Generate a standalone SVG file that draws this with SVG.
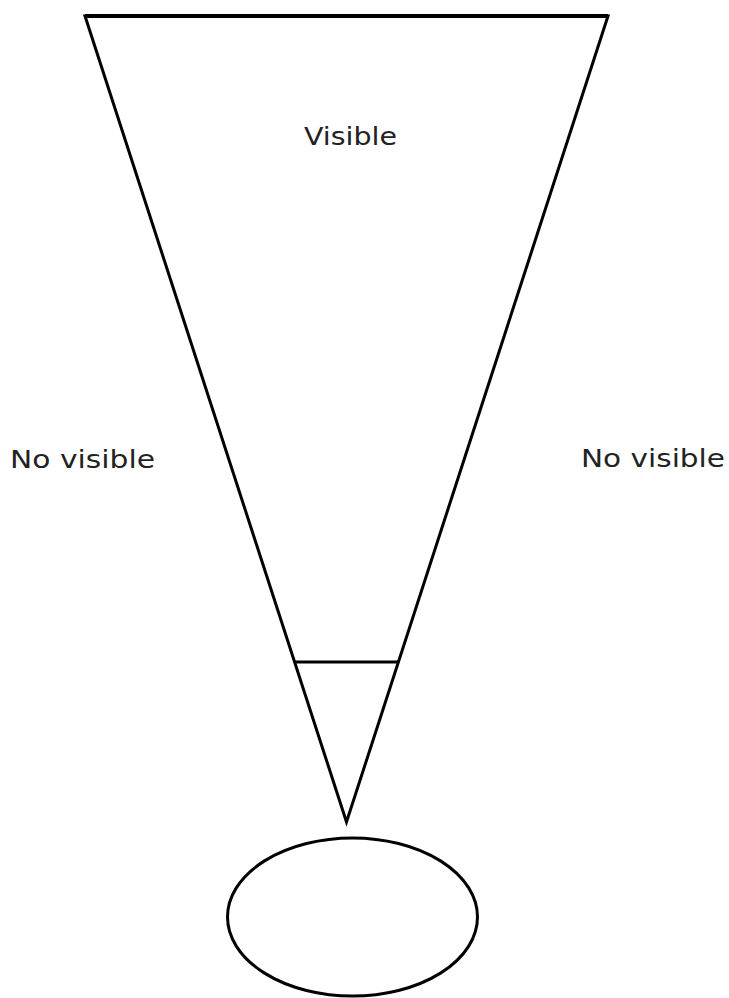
<svg xmlns="http://www.w3.org/2000/svg" width="729" height="998" viewBox="0 0 729 998">
<style>
.s{fill:none;stroke:#000;stroke-width:3;stroke-linejoin:miter}
.t{font-family:"DejaVu Sans","Liberation Sans",sans-serif;font-size:25px;fill:#222}
</style>
<rect width="729" height="998" fill="#fff"/>
<g id="cone">
<path class="s" d="M346.5,822 L85,16 L608,16 Z"/>
<line x1="85" y1="16" x2="608" y2="16" stroke="#000" stroke-width="4"/>
</g>
<g id="connectors">
<line class="s" x1="295" y1="662" x2="398" y2="662" stroke-width="2.5"/>
</g>
<g id="eye">
<ellipse class="s" cx="352.5" cy="917" rx="125" ry="79"/>
</g>
<g id="label-visible">
<text class="t" x="304" y="145" textLength="93" lengthAdjust="spacingAndGlyphs">Visible</text>
</g>
<g id="label-left">
<text class="t" x="10" y="468" textLength="145" lengthAdjust="spacingAndGlyphs">No visible</text>
</g>
<g id="label-right">
<text class="t" x="581" y="467" textLength="144" lengthAdjust="spacingAndGlyphs">No visible</text>
</g>
</svg>
